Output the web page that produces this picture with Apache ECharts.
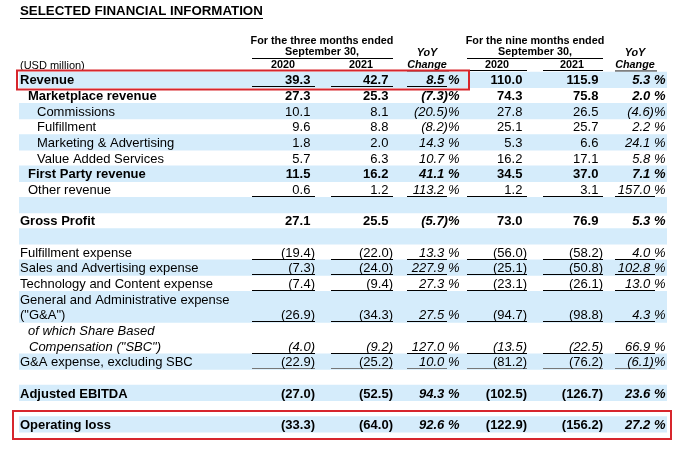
<!DOCTYPE html>
<html><head><meta charset="utf-8">
<script src="https://cdn.jsdelivr.net/npm/echarts@6/dist/echarts.min.js"></script>
<style>html,body{margin:0;padding:0;background:#fff}#c{width:693px;height:451px}</style>
</head><body><div id="c"></div>
<script>
// ---------- data ----------
const rowLabels = ['Revenue','Marketplace revenue','Commissions','Fulfillment','Marketing & Advertising','Value Added Services','First Party revenue','Other revenue','','Gross Profit','','Fulfillment expense','Sales and Advertising expense','Technology and Content expense','General and Administrative expense','("G&A")','of which Share Based','Compensation ("SBC")','G&A expense, excluding SBC','','Adjusted EBITDA','','Operating loss'];
const q3_2020 = [39.3,27.3,10.1,9.6,1.8,5.7,11.5,0.6,null,27.1,null,-19.4,-7.3,-7.4,null,-26.9,null,-4.0,-22.9,null,-27.0,null,-33.3];
const q3_2021 = [42.7,25.3,8.1,8.8,2.0,6.3,16.2,1.2,null,25.5,null,-22.0,-24.0,-9.4,null,-34.3,null,-9.2,-25.2,null,-52.5,null,-64.0];
const q3_yoy  = [8.5,-7.3,-20.5,-8.2,14.3,10.7,41.1,113.2,null,-5.7,null,13.3,227.9,27.3,null,27.5,null,127.0,10.0,null,94.3,null,92.6];
const m9_2020 = [110.0,74.3,27.8,25.1,5.3,16.2,34.5,1.2,null,73.0,null,-56.0,-25.1,-23.1,null,-94.7,null,-13.5,-81.2,null,-102.5,null,-122.9];
const m9_2021 = [115.9,75.8,26.5,25.7,6.6,17.1,37.0,3.1,null,76.9,null,-58.2,-50.8,-26.1,null,-98.8,null,-22.5,-76.2,null,-126.7,null,-156.2];
const m9_yoy  = [5.3,2.0,-4.6,2.2,24.1,5.8,7.1,157.0,null,5.3,null,4.0,102.8,13.0,null,4.3,null,66.9,-6.1,null,23.6,null,27.2];
const title = 'SELECTED FINANCIAL INFORMATION';
const unitLabel = '(USD million)';
const periodHeaders = ['For the three months ended','For the nine months ended'];
const periodSub = 'September 30,';
const yearHeaders = ['2020','2021'];
const yoyHeader = ['YoY','Change'];

// ---------- layout / style ----------
const FONT = '"Liberation Sans", Arial, sans-serif';
const FS = 13;
const HFS = 10.8;
const columns = [q3_2020, q3_2021, q3_yoy, m9_2020, m9_2021, m9_yoy];
const colRight = [315, 393, 459.5, 527, 603, 665.5];
const colPct = [false,false,true,false,false,true];
const colUL = [[252,315],[331,393],[407,447],[467,527],[543,603],[615,655]];
const rowIndent = [20,28,37,37,37,37,28,28,20,20,20,20,20,20,20,20,28,29,20,20,20,20,20];
const rowBold = [1,1,0,0,0,0,1,0,0,1,0,0,0,0,0,0,0,0,0,0,1,0,1];
const rowItalic = [0,0,0,0,0,0,0,0,0,0,0,0,0,0,0,0,1,1,0,0,0,0,0];
const shadedRows = [0,2,4,6,8,10,12,14,15,18,20,22];
const ulRows = {0:[0,1,2],7:[0,1,2,3,4,5],11:[0,1,2,3,4,5],12:[0,1,2,3,4,5],13:[0,1,2,3,4,5],15:[0,1,2,3,4,5],17:[0,1,2,3,4,5],18:[0,1,2,3,4,5]};
const boxes = [{row:0,x1:17,x2:469,top:9,bot:10},{row:22,x1:13,x2:671,top:13,bot:15}];
const BLUE = '#d5ecfb';
const RED = '#d7262d';

function fmt(v, pct){
  const a = Math.abs(v).toFixed(1);
  if (pct) return v < 0 ? '(' + a + ')%' : a + ' %';
  return v < 0 ? '(' + a + ')' : a;
}
function font(bold, italic, size){
  return (italic ? 'italic ' : '') + (bold ? 'bold ' : '') + (size || FS) + 'px ' + FONT;
}

// cell table built from arrays
const cells = [];
rowLabels.forEach((lab, r) => {
  if (lab) cells.push([-1, r]);
  columns.forEach((arr, c) => { if (arr[r] !== null) cells.push([c, r]); });
});
const ulItems = [];
Object.keys(ulRows).forEach(r => ulRows[r].forEach(c => ulItems.push([c, +r])));

const chart = echarts.init(document.getElementById('c'), null, {renderer:'canvas'});
const rowIdx = rowLabels.map((_, i) => i);
function htext(x, y, text, bold, italic, align){
  return {type:'text', x, y, style:{text, font:font(bold, italic, HFS), fill:'#000', align: align || 'center', verticalAlign:'middle'}};
}
function hline(x1, x2, y){
  return {type:'line', shape:{x1, y1:y, x2, y2:y}, style:{stroke:'#000', lineWidth:1}};
}

chart.setOption({
  animation: false,
  backgroundColor: '#fff',
  grid: {left: 0, right: 0, top: 71.67, bottom: 19.17},
  xAxis: {type:'value', min:0, max:693, show:false},
  yAxis: {type:'category', data: rowIdx, inverse:true, show:false},
  graphic: [
    {type:'text', x:20, y:11, style:{text:title, font:font(1,0,13.3), fill:'#000', verticalAlign:'middle'}},
    {type:'line', shape:{x1:20,y1:18.5,x2:263,y2:18.5}, style:{stroke:'#000', lineWidth:1.2}},
    htext(322, 41, periodHeaders[0], 1, 0),
    htext(322, 52.5, periodSub, 1, 0),
    hline(252, 393, 58.5),
    htext(535, 41, periodHeaders[1], 1, 0),
    htext(535, 52.5, periodSub, 1, 0),
    hline(467, 603, 58.5),
    htext(427, 53.5, yoyHeader[0], 1, 1),
    htext(427, 65.5, yoyHeader[1], 1, 1),
    htext(635, 53.5, yoyHeader[0], 1, 1),
    htext(635, 65.5, yoyHeader[1], 1, 1),
    htext(283, 65.5, yearHeaders[0], 1, 0),
    htext(361, 65.5, yearHeaders[1], 1, 0),
    htext(497, 65.5, yearHeaders[0], 1, 0),
    htext(572, 65.5, yearHeaders[1], 1, 0),
    {type:'text', x:20, y:65.5, style:{text:unitLabel, font:font(0,0,11), fill:'#000', verticalAlign:'middle'}},
    hline(252, 315, 70.5),
    hline(331, 393, 70.5),
    hline(407, 449, 71),
    hline(467, 527, 70.5),
    hline(543, 603, 70.5),
    hline(615, 657, 71)
  ],
  series: [
    { // shaded bands
      type:'custom', silent:true, z:1,
      data: shadedRows.map(r => [r]),
      encode:{y:0},
      renderItem(params, api){
        const r = api.value(0);
        const p1 = api.coord([19, r]);
        const p2 = api.coord([667, r]);
        const h = api.size([0, 1])[1];
        return {type:'rect', shape:{x:p1[0], y:p1[1]-h/2, width:p2[0]-p1[0], height:h+0.6}, style:{fill:BLUE}};
      }
    },
    { // underlines
      type:'custom', silent:true, z:2,
      data: ulItems,
      encode:{x:0, y:1},
      renderItem(params, api){
        const c = api.value(0), r = api.value(1);
        const a = api.coord([colUL[c][0], r]);
        const b = api.coord([colUL[c][1], r]);
        const h = api.size([0, 1])[1];
        const y = Math.round(a[1] + h/2) - 0.5;
        return {type:'line', shape:{x1:a[0], y1:y, x2:b[0], y2:y}, style:{stroke: r===18 ? '#777' : '#000', lineWidth:1}};
      }
    },
    { // cell text
      type:'custom', silent:true, z:3,
      data: cells,
      encode:{x:0, y:1},
      renderItem(params, api){
        const c = api.value(0), r = api.value(1);
        let text, x, align = 'left', bold = rowBold[r], italic = rowItalic[r];
        if (c < 0) { text = rowLabels[r]; x = rowIndent[r]; }
        else {
          const v = columns[c][r];
          text = fmt(v, colPct[c]);
          x = colRight[c] - (!colPct[c] && v >= 0 ? 4.6 : 0);
          align = 'right';
          if (colPct[c]) italic = 1;
        }
        const p = api.coord([x, r]);
        return {type:'text', x:p[0], y:p[1]+1.3, style:{text, font:font(bold, italic), fill:'#000', align, verticalAlign:'middle'}};
      }
    },
    { // red highlight boxes
      type:'custom', silent:true, z:4,
      data: boxes.map((b, i) => [i, b.row]),
      encode:{y:1},
      renderItem(params, api){
        const b = boxes[api.value(0)];
        const a = api.coord([b.x1, b.row]);
        const e = api.coord([b.x2, b.row]);
        return {type:'rect', shape:{x:a[0], y:a[1]-b.top, width:e[0]-a[0], height:b.top+b.bot}, style:{fill:'none', stroke:RED, lineWidth:2}};
      }
    }
  ]
});
</script></body></html>
